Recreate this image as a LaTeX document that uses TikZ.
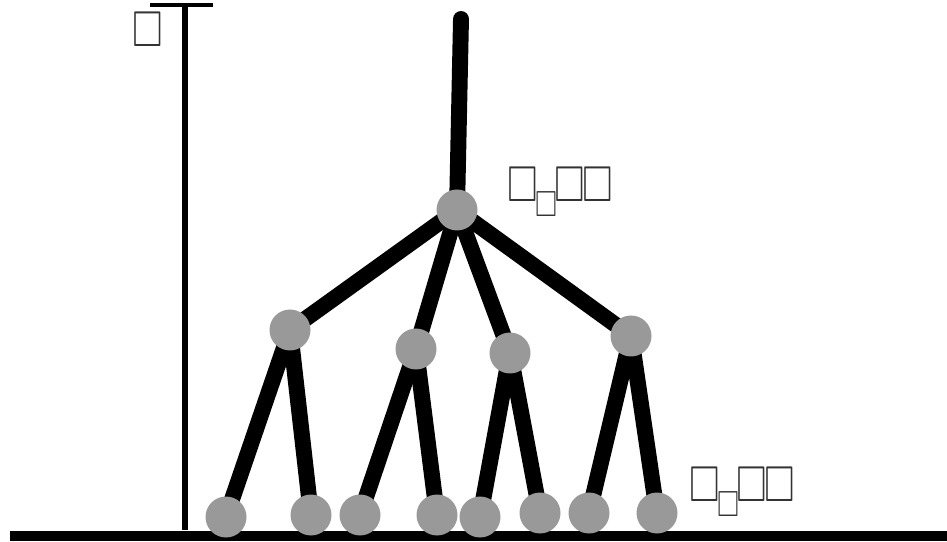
\documentclass[tikz,border=0pt]{standalone}
\usepackage{amssymb}
\usetikzlibrary{backgrounds}
\definecolor{nodegray}{HTML}{999999}
\newcommand{\tofu}{\scalebox{0.78}[1]{$\square$}}
\newcommand{\tofulabel}{\tofu\hspace{-0.04em}\raisebox{-0.3em}{\scalebox{0.72}{\tofu}}\hspace{-0.06em}\tofu\hspace{-0.06em}\tofu}

\begin{document}
\begin{tikzpicture}[x=0.03cm,y=-0.03cm,line cap=butt,
    every node/.style={inner sep=0pt},
    treenode/.style={circle,fill=nodegray,minimum size=41*0.03cm},
    branch/.style={line width=13.6pt},
    boxtext/.style={font=\fontsize{43}{43}\selectfont,text=black!80}]
  \useasboundingbox (0,0) rectangle (947,542);
  % time axis and ground
  \draw[line width=8.5pt] (10,536) -- (947,536);
  \draw[line width=4.5pt] (185,5) -- (185,530);
  \draw[line width=3.4pt] (150,5) -- (213,5);
  \node[boxtext] (tlabel) at (148,30) {\tofu};
  % nodes
  \node[treenode] (root) at (457,210) {};
  \node[treenode] (a) at (290,330) {};
  \node[treenode] (b) at (416,349) {};
  \node[treenode] (c) at (510,353) {};
  \node[treenode] (d) at (631,336) {};
  \node[treenode] (a1) at (226,517) {};
  \node[treenode] (a2) at (311,515) {};
  \node[treenode] (b1) at (360,515) {};
  \node[treenode] (b2) at (437,515) {};
  \node[treenode] (c1) at (480,517) {};
  \node[treenode] (c2) at (540,513) {};
  \node[treenode] (d1) at (589,513) {};
  \node[treenode] (d2) at (657,513) {};
  \coordinate (top) at (461,19);
  % labels
  \node[boxtext,anchor=west] (rootlabel) at (507,192) {\tofulabel};
  \node[boxtext,anchor=west] (leaflabel) at (689,492) {\tofulabel};
  % branches
  \begin{scope}[on background layer]
    \draw[line width=13.6pt,line cap=round] (top) -- (root.center);
    \foreach \n in {a,b,c,d}
      \draw[branch] (root.center) -- (\n.center);
    \foreach \n in {a,b,c,d}{
      \draw[branch] (\n.center) -- (\n1.center);
      \draw[branch] (\n.center) -- (\n2.center);
    }
  \end{scope}
\end{tikzpicture}
\end{document}
